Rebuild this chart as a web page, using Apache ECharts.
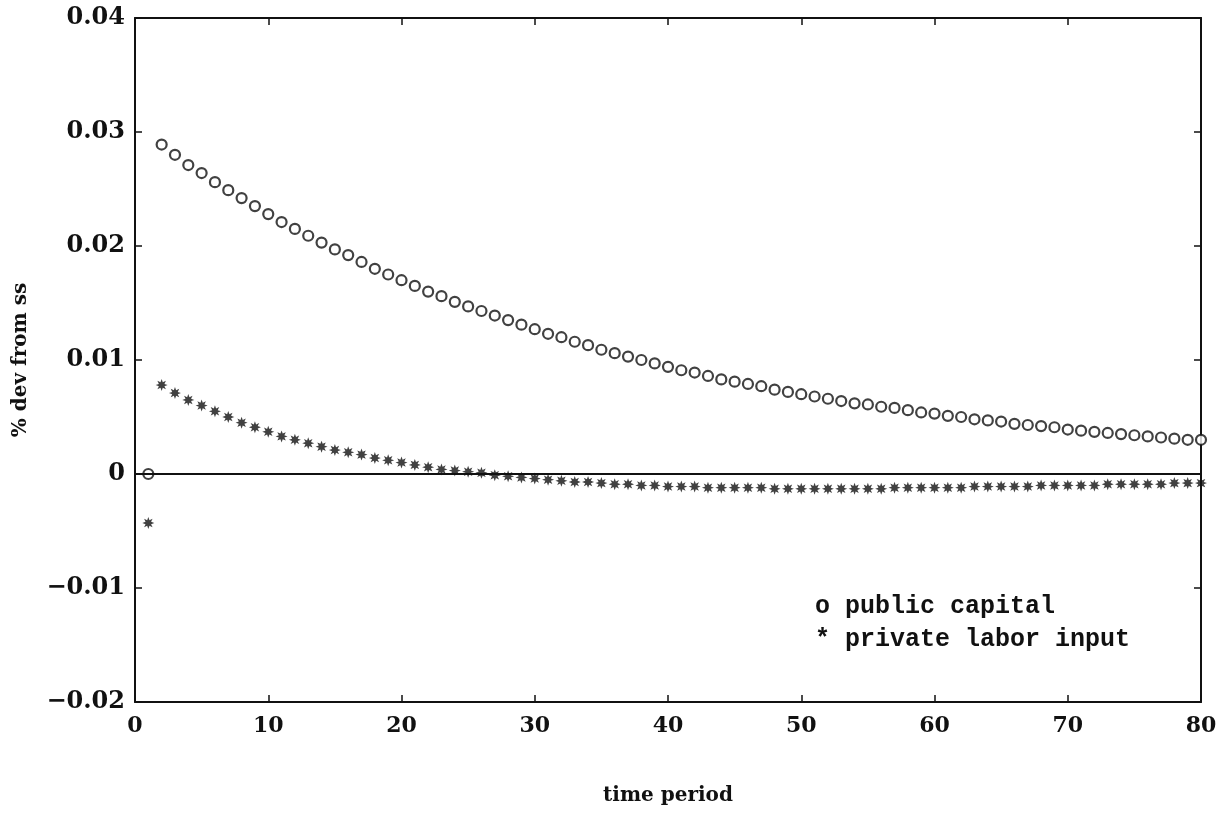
<!DOCTYPE html>
<html lang="en">

<head>
  <meta charset="UTF-8">
  <title>public capital impulse response</title>
  <style>
    html, body {
      margin: 0;
      width: 100%;
      height: 100%;
      background: #fff;
    }

    .chart {
      width: 1225px;
      height: 814px;
    }
  </style>
</head>

<body>
  <div id="chart" class="chart"></div>

  <script src="https://cdn.jsdelivr.net/npm/echarts@6/dist/echarts.min.js"></script>
  <script>
    // time periods (x)
    var periods = [1, 2, 3, 4, 5, 6, 7, 8, 9, 10,
      11, 12, 13, 14, 15, 16, 17, 18, 19, 20,
      21, 22, 23, 24, 25, 26, 27, 28, 29, 30,
      31, 32, 33, 34, 35, 36, 37, 38, 39, 40,
      41, 42, 43, 44, 45, 46, 47, 48, 49, 50,
      51, 52, 53, 54, 55, 56, 57, 58, 59, 60,
      61, 62, 63, 64, 65, 66, 67, 68, 69, 70,
      71, 72, 73, 74, 75, 76, 77, 78, 79, 80];

    // o public capital
    var publicCapital = [0, 0.0289, 0.0280, 0.0271, 0.0264, 0.0256, 0.0249, 0.0242, 0.0235, 0.0228,
      0.0221, 0.0215, 0.0209, 0.0203, 0.0197, 0.0192, 0.0186, 0.0180, 0.0175, 0.0170,
      0.0165, 0.0160, 0.0156, 0.0151, 0.0147, 0.0143, 0.0139, 0.0135, 0.0131, 0.0127,
      0.0123, 0.0120, 0.0116, 0.0113, 0.0109, 0.0106, 0.0103, 0.0100, 0.0097, 0.0094,
      0.0091, 0.0089, 0.0086, 0.0083, 0.0081, 0.0079, 0.0077, 0.0074, 0.0072, 0.0070,
      0.0068, 0.0066, 0.0064, 0.0062, 0.0061, 0.0059, 0.0058, 0.0056, 0.0054, 0.0053,
      0.0051, 0.0050, 0.0048, 0.0047, 0.0046, 0.0044, 0.0043, 0.0042, 0.0041, 0.0039,
      0.0038, 0.0037, 0.0036, 0.0035, 0.0034, 0.0033, 0.0032, 0.0031, 0.0030, 0.0030];

    // * private labor input
    var laborInput = [-0.0043, 0.0078, 0.0071, 0.0065, 0.0060, 0.0055, 0.0050, 0.0045, 0.0041, 0.0037,
      0.0033, 0.0030, 0.0027, 0.0024, 0.0021, 0.0019, 0.0017, 0.0014, 0.0012, 0.0010,
      0.0008, 0.0006, 0.0004, 0.0003, 0.0002, 0.0001, -0.0001, -0.0002, -0.0003, -0.0004,
      -0.0005, -0.0006, -0.0007, -0.0007, -0.0008, -0.0009, -0.0009, -0.0010, -0.0010, -0.0011,
      -0.0011, -0.0011, -0.0012, -0.0012, -0.0012, -0.0012, -0.0012, -0.0013, -0.0013, -0.0013,
      -0.0013, -0.0013, -0.0013, -0.0013, -0.0013, -0.0013, -0.0012, -0.0012, -0.0012, -0.0012,
      -0.0012, -0.0012, -0.0011, -0.0011, -0.0011, -0.0011, -0.0011, -0.0010, -0.0010, -0.0010,
      -0.0010, -0.0010, -0.0009, -0.0009, -0.0009, -0.0009, -0.0009, -0.0008, -0.0008, -0.0008];

    var legendLines = ['o public capital', '* private labor input'];

    // asterisk marker
    var starPath = 'path://M10 0 L4.62 1.91 L7.07 7.07 L1.91 4.62 L0 10 L-1.91 4.62 L-7.07 7.07 L-4.62 1.91 L-10 0 L-4.62 -1.91 L-7.07 -7.07 L-1.91 -4.62 L0 -10 L1.91 -4.62 L7.07 -7.07 L4.62 -1.91 Z';

    function pairs(xs, ys) {
      var out = [];
      for (var i = 0; i < xs.length; i++) out.push([xs[i], ys[i]]);
      return out;
    }

    var myChart = echarts.init(document.getElementById('chart'));

    var option = {
      backgroundColor: '#fff',
      animation: false,
      grid: { left: 135, right: 24, top: 18, bottom: 112, outerBoundsMode: 'none', containLabel: false },
      xAxis: [{
        type: 'value',
        min: 0, max: 80, interval: 10,
        name: 'time period',
        nameLocation: 'middle',
        nameGap: 84,
        nameTextStyle: { color: '#111', fontFamily: 'DejaVu Serif', fontWeight: 'bold', fontSize: 20 },
        axisLine: { onZero: false, lineStyle: { color: '#111', width: 2 } },
        axisTick: { inside: true, length: 7, lineStyle: { color: '#111', width: 1.5 } },
        axisLabel: { margin: 13, color: '#111', fontFamily: 'DejaVu Serif', fontWeight: 'bold', fontSize: 22 },
        splitLine: { show: false }
      }, {
        type: 'value',
        position: 'top',
        min: 0, max: 80, interval: 10,
        axisLine: { onZero: false, lineStyle: { color: '#111', width: 2 } },
        axisTick: { inside: true, length: 7, lineStyle: { color: '#111', width: 1.5 } },
        axisLabel: { show: false },
        splitLine: { show: false }
      }],
      yAxis: [{
        type: 'value',
        min: -0.02, max: 0.04, interval: 0.01,
        name: '% dev from ss',
        nameLocation: 'middle',
        nameGap: 104,
        nameTextStyle: { color: '#111', fontFamily: 'DejaVu Serif', fontWeight: 'bold', fontSize: 20 },
        axisLine: { onZero: false, lineStyle: { color: '#111', width: 2 } },
        axisTick: { inside: true, length: 7, lineStyle: { color: '#111', width: 1.5 } },
        axisLabel: {
          margin: 10,
          color: '#111',
          fontFamily: 'DejaVu Serif',
          fontWeight: 'bold',
          fontSize: 24,
          formatter: function (v) {
            if (Math.abs(v) < 1e-9) return '0';
            return v.toFixed(2).replace('-', '\u2212');
          }
        },
        splitLine: { show: false }
      }, {
        type: 'value',
        position: 'right',
        min: -0.02, max: 0.04, interval: 0.01,
        axisLine: { show: true, onZero: false, lineStyle: { color: '#111', width: 2 } },
        axisTick: { show: true, inside: true, length: 7, lineStyle: { color: '#111', width: 1.5 } },
        axisLabel: { show: false },
        splitLine: { show: false }
      }],
      graphic: [{
        type: 'text',
        left: 815,
        top: 590,
        style: {
          text: legendLines.join('\n'),
          fill: '#111',
          font: 'bold 25px "Liberation Mono"',
          lineHeight: 33
        }
      }],
      series: [{
        name: 'public capital',
        type: 'scatter',
        data: pairs(periods, publicCapital),
        symbol: 'circle',
        symbolSize: 10,
        itemStyle: { color: '#fff', borderColor: '#111', borderWidth: 2.2 },
        markLine: {
          silent: true,
          symbol: 'none',
          label: { show: false },
          lineStyle: { color: '#111', width: 1.8, type: 'solid' },
          data: [{ yAxis: 0 }]
        },
        z: 3
      }, {
        name: 'private labor input',
        type: 'scatter',
        data: pairs(periods, laborInput),
        symbol: starPath,
        symbolSize: 12,
        itemStyle: { color: '#111' },
        z: 3
      }]
    };

    myChart.setOption(option);

    window.addEventListener('resize', function () {
      myChart.resize();
    });
  </script>
</body>

</html>
